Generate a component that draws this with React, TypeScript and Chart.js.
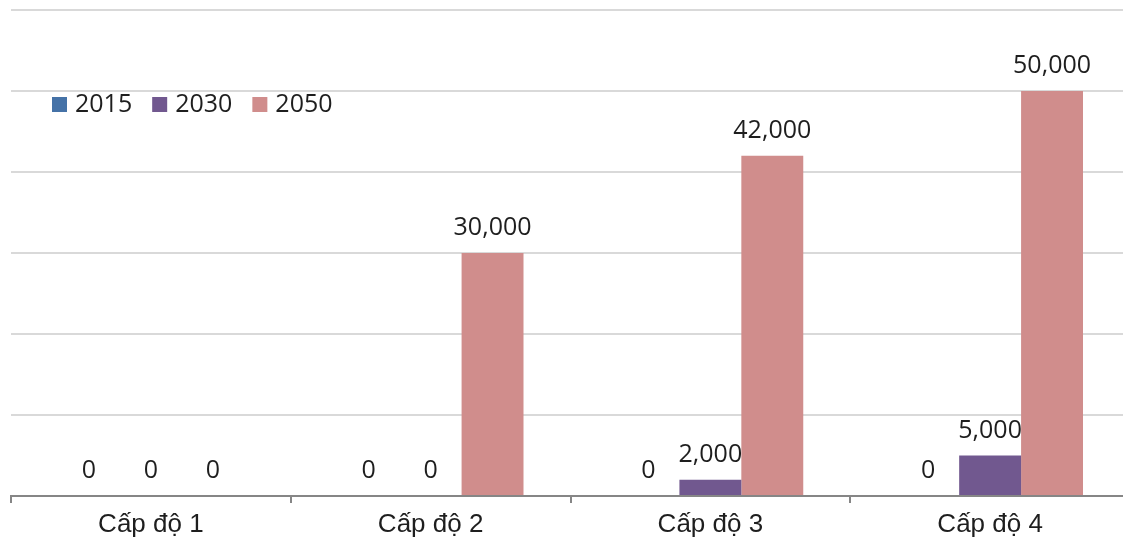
import React, { useEffect, useRef } from "react";
import { Chart, registerables } from "chart.js";

Chart.register(...registerables);

const categories = ["Cấp độ 1", "Cấp độ 2", "Cấp độ 3", "Cấp độ 4"];
const seriesLabels = ["2015", "2030", "2050"];
const values2015 = [0, 0, 0, 0];
const values2030 = [0, 0, 2000, 5000];
const values2050 = [0, 30000, 42000, 50000];
const seriesColors = ["#4572A7", "#71588F", "#D08D8C"];

const TEXT_COLOR = "#1e1e1e";
const NUM_FONT = "25px 'Open Sans'";

const valueLabelPlugin = {
  id: "valueLabels",
  afterDatasetsDraw(chart: any) {
    const ctx = chart.ctx;
    ctx.save();
    ctx.font = NUM_FONT;
    ctx.fillStyle = TEXT_COLOR;
    ctx.textAlign = "center";
    ctx.textBaseline = "alphabetic";
    chart.data.datasets.forEach((ds: any, di: number) => {
      const meta = chart.getDatasetMeta(di);
      meta.data.forEach((el: any, i: number) => {
        const v = ds.data[i];
        ctx.fillText(Number(v).toLocaleString("en-US"), el.x, el.y - 18);
      });
    });
    ctx.restore();
  },
};

const customLegendPlugin = {
  id: "customLegend",
  afterDraw(chart: any) {
    const ctx = chart.ctx;
    ctx.save();
    ctx.font = NUM_FONT;
    ctx.textBaseline = "alphabetic";
    ctx.textAlign = "left";
    let x = 52;
    const baseY = 112;
    const box = 15;
    chart.data.datasets.forEach((ds: any) => {
      ctx.fillStyle = ds.backgroundColor;
      ctx.fillRect(x, baseY - box, box, box);
      x += box + 8;
      ctx.fillStyle = TEXT_COLOR;
      ctx.fillText(ds.label, x, baseY);
      x += ctx.measureText(ds.label).width + 20;
    });
    ctx.restore();
  },
};

export default function App() {
  const canvasRef = useRef<HTMLCanvasElement | null>(null);

  useEffect(() => {
    if (!canvasRef.current) return;
    const seriesValues = [values2015, values2030, values2050];
    const chart = new Chart(canvasRef.current, {
      type: "bar",
      data: {
        labels: categories,
        datasets: seriesLabels.map((label, i) => ({
          label,
          data: seriesValues[i],
          backgroundColor: seriesColors[i],
          borderWidth: 0,
          categoryPercentage: 0.664,
          barPercentage: 1,
        })),
      },
      options: {
        responsive: false,
        animation: false,
        devicePixelRatio: 1,
        layout: { padding: { left: 11, right: 10, top: 10, bottom: 0 } },
        plugins: {
          legend: { display: false },
          tooltip: { enabled: false },
        },
        scales: {
          x: {
            offset: true,
            grid: {
              display: true,
              drawOnChartArea: false,
              drawTicks: true,
              tickLength: 7,
              color: "#868686",
              lineWidth: 2,
              offset: true,
            },
            border: { display: true, color: "#868686", width: 2 },
            ticks: {
              color: TEXT_COLOR,
              font: { family: "'Liberation Sans'", size: 26 },
              padding: 6,
              maxRotation: 0,
            },
            afterFit(scale: any) {
              scale.height = 49;
            },
          },
          y: {
            min: 0,
            max: 60000,
            ticks: { display: false, stepSize: 10000 },
            grid: { color: "#d9d9d9", lineWidth: 2, drawTicks: false },
            border: { display: false },
            afterFit(scale: any) {
              scale.width = 0;
            },
          },
        },
      },
      plugins: [valueLabelPlugin, customLegendPlugin],
    });
    return () => chart.destroy();
  }, []);

  return (
    <div
      style={{
        position: "fixed",
        left: 0,
        top: 0,
        width: 1123,
        height: 545,
        overflow: "hidden",
        background: "#fff",
      }}
    >
      <canvas ref={canvasRef} width={1140} height={545} style={{ display: "block" }} />
    </div>
  );
}
